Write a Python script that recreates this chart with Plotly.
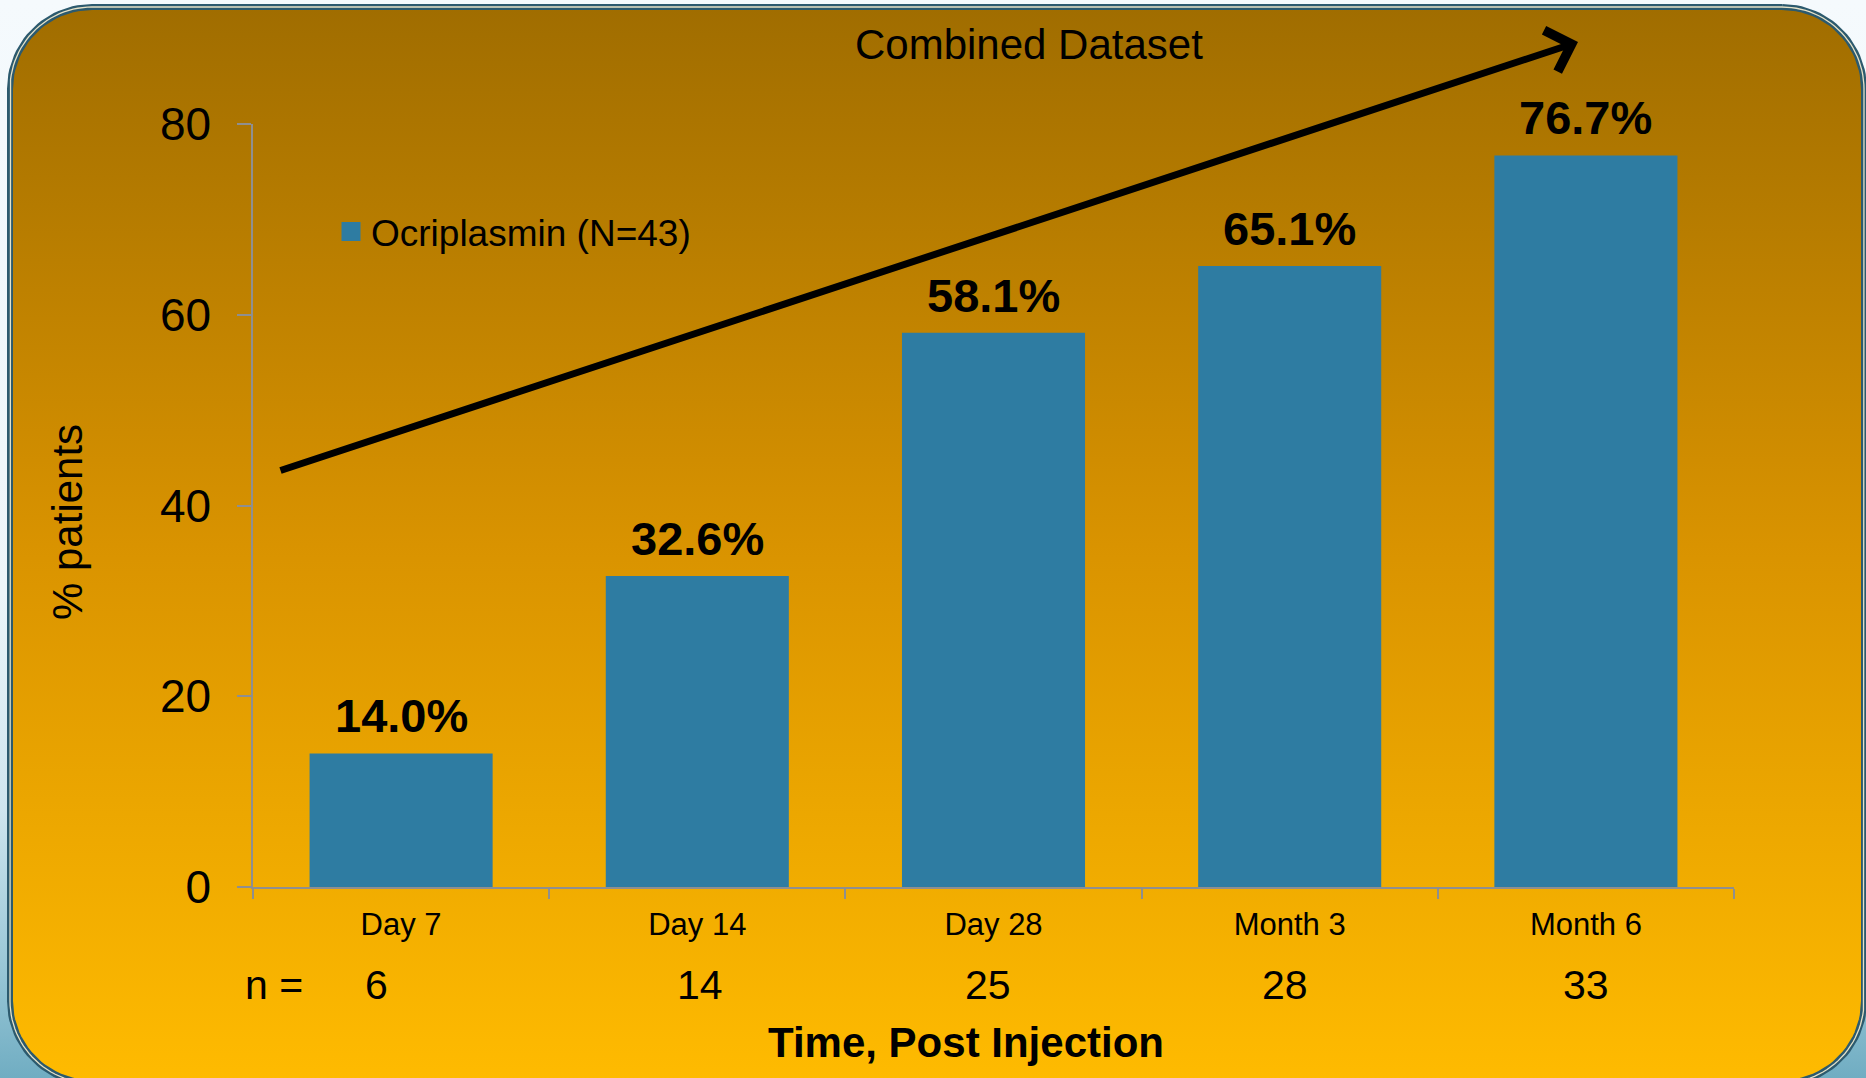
import numpy as np
import plotly.graph_objects as go

# ---------------- data ----------------
categories = ["Day 7", "Day 14", "Day 28", "Month 3", "Month 6"]
percent_patients = [14.0, 32.6, 58.1, 65.1, 76.7]
n_patients = [6, 14, 25, 28, 33]
series_name = "Ocriplasmin (N=43)"
y_ticks = [0, 20, 40, 60, 80]

# ---------------- layout constants ----------------
W, H = 1866, 1078
FONT = "Liberation Sans, Arial, sans-serif"
BAR = "#2e7ca2"
AXIS = "#8f8f8f"
PL, PR, PT, PB = 253, 1734, 124, 887   # plot area (screen px)
N_SHIFTS = [-25, 3, -6, -5, 0]          # small horizontal nudges of the n row


def rounded_rect(x0, y0, x1, y1, r, n=28):
    xs, ys = [], []
    corners = [(x1 - r, y0 + r, -90, 0), (x1 - r, y1 - r, 0, 90),
               (x0 + r, y1 - r, 90, 180), (x0 + r, y0 + r, 180, 270)]
    for cx, cy, a0, a1 in corners:
        t = np.radians(np.linspace(a0, a1, n))
        xs += list(cx + r * np.cos(t))
        ys += list(cy + r * np.sin(t))
    xs.append(xs[0])
    ys.append(ys[0])
    return xs, [H - v for v in ys]


fig = go.Figure()

# page background (light, turning blue at the bottom)
fig.add_trace(go.Scatter(
    x=[0, W, W, 0, 0], y=[0, 0, H, H, 0], mode="lines", fill="toself",
    line=dict(width=0, color="rgba(0,0,0,0)"),
    fillgradient=dict(type="vertical", colorscale=[
        [0.0, "#70adc2"], [0.1, "#98c6d6"], [0.25, "#cfe5ee"],
        [0.45, "#ecf5f9"], [1.0, "#f5fafd"]]),
    hoverinfo="skip", showlegend=False, xaxis="x", yaxis="y"))

# rounded golden panel
rx, ry = rounded_rect(10, 7, 1864, 1083, 82)
fig.add_trace(go.Scatter(
    x=rx, y=ry, mode="lines", fill="toself",
    line=dict(width=6, color="#2c5a6e"),
    fillgradient=dict(type="vertical", colorscale=[
        [0.0, "#ffbb00"], [0.5, "#d99300"], [1.0, "#a06d00"]]),
    hoverinfo="skip", showlegend=False, xaxis="x", yaxis="y"))
fig.add_trace(go.Scatter(
    x=rx, y=ry, mode="lines", line=dict(width=1.3, color="#e6e2c8"),
    hoverinfo="skip", showlegend=False, xaxis="x", yaxis="y"))

# bars
fig.add_trace(go.Bar(
    x=categories, y=percent_patients, marker=dict(color=BAR, line=dict(width=0)),
    showlegend=False, name=series_name, xaxis="x2", yaxis="y2"))

# legend entry
fig.add_trace(go.Scatter(
    x=[None], y=[None], mode="markers", name=series_name,
    marker=dict(symbol="square", size=16, color=BAR, line=dict(width=3, color=BAR)),
    xaxis="x2", yaxis="y2"))


def txt(text, x, y, size, **kw):
    d = dict(text=text, x=x, y=y, xref="paper", yref="paper", showarrow=False,
             xanchor="center", yanchor="middle",
             font=dict(family=FONT, size=size, color="black"))
    d.update(kw)
    return d


annotations = [
    txt("% patients", 67 / W, 1 - 522 / H, 42, textangle=-90),
    txt("<b>Time, Post Injection</b>", 966 / W, 1 - 1042 / H, 42),
    txt("Combined Dataset", 1029 / W, 1 - 44 / H, 42),
    txt("n =", 274 / W, 1 - 985 / H, 41),
    dict(text="", x=1578 / W, y=1 - 42 / H, xref="paper", yref="paper",
         showarrow=True, ax=279 - 1578, ay=471 - 42, arrowhead=4, arrowsize=1.2,
         arrowwidth=7, arrowcolor="black", standoff=0),
]
for c, n, v, s in zip(categories, n_patients, percent_patients, N_SHIFTS):
    annotations.append(txt(str(n), c, 1 - 985 / H, 41, xref="x2", xshift=s))
    annotations.append(dict(text=f"<b>{v:.1f}%</b>", x=c, y=v, xref="x2", yref="y2",
                            showarrow=False, xanchor="center", yanchor="bottom",
                            yshift=9, font=dict(family=FONT, size=47, color="black")))

fig.update_layout(
    width=W, height=H, template="none",
    margin=dict(l=0, r=0, t=0, b=0),
    paper_bgcolor="#f5fafd", plot_bgcolor="rgba(0,0,0,0)",
    font=dict(family=FONT, color="black"),
    bargap=0.382,
    xaxis=dict(domain=[0, 1], range=[0, W], visible=False, fixedrange=True),
    yaxis=dict(domain=[0, 1], range=[0, H], visible=False, fixedrange=True),
    xaxis2=dict(domain=[PL / W, PR / W], anchor="y2", type="category",
                showline=True, linecolor=AXIS, linewidth=1.5,
                ticks="outside", tickson="boundaries", ticklen=10, tickcolor=AXIS,
                tickwidth=1.5, showgrid=False, zeroline=False, automargin=False,
                tickfont=dict(family=FONT, size=31, color="black"),
                ticklabelstandoff=9),
    yaxis2=dict(domain=[1 - PB / H, 1 - PT / H], anchor="x2", range=[0, 80],
                tickvals=y_ticks, showline=True, linecolor=AXIS, linewidth=1.5,
                ticks="outside", ticklen=14, tickcolor=AXIS, tickwidth=1.5,
                showgrid=False, zeroline=False, automargin=False,
                tickfont=dict(family=FONT, size=46, color="black"),
                ticklabelstandoff=17),
    legend=dict(x=331 / W, y=1 - 232 / H, xanchor="left", yanchor="middle",
                bgcolor="rgba(0,0,0,0)", font=dict(family=FONT, size=37, color="black")),
    annotations=annotations,
)

fig.write_html("out.html", config={"displayModeBar": False},
               post_script="document.body.style.margin='0';"
                           "document.body.style.overflow='hidden';")
